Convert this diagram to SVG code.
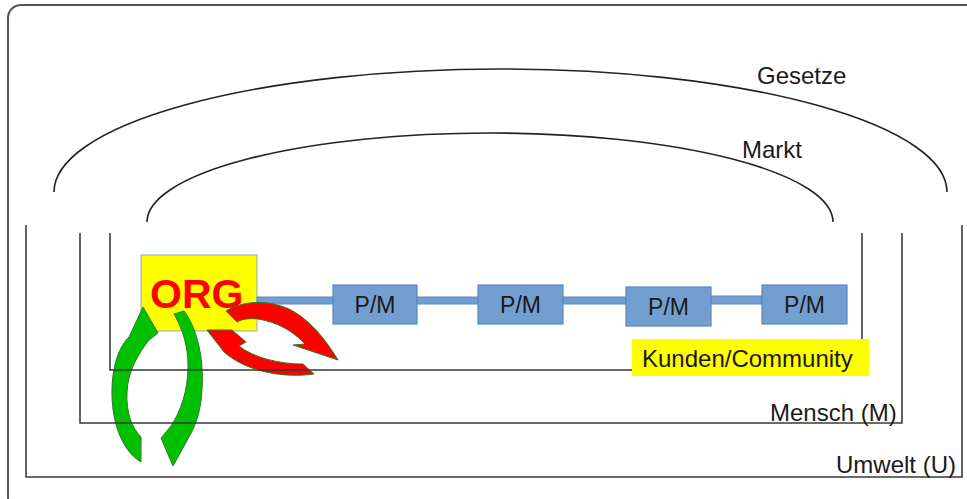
<svg xmlns="http://www.w3.org/2000/svg" width="967" height="499" viewBox="0 0 967 499">
<defs>
<style>
.t{font-family:"Liberation Sans",Arial,sans-serif;font-size:24px;fill:#1a1a1a}
.pm{font-family:"Liberation Sans",Arial,sans-serif;font-size:23px;fill:#1a1a1a;text-anchor:middle}
.line{fill:none;stroke:#3a3a3a;stroke-width:1.6}
.arc{fill:none;stroke:#222;stroke-width:1.6}
.box{fill:#729fcf;stroke:#5a86c2;stroke-width:1.2}
.bar{fill:#729fcf;stroke:#5a86c2;stroke-width:1}
.grn{fill:#00c000;stroke:#2c7a2c;stroke-width:1}
.red{fill:#ff0000;stroke:#2f7a1f;stroke-width:1}
</style>
</defs>
<rect x="0" y="0" width="967" height="499" fill="#fff"/>
<rect x="8" y="5" width="975" height="505" rx="13" fill="none" stroke="#555" stroke-width="2"/>

<g id="gesetze">
<path class="arc" d="M54,192 A446.5,123 0 0 1 947,192"/>
<text class="t" x="757" y="84">Gesetze</text>
</g>
<g id="markt">
<path class="arc" d="M147,222 A343,89 0 0 1 833,222"/>
<text class="t" x="742" y="158">Markt</text>
</g>

<g id="org">
<rect x="141" y="255" width="116" height="76" fill="#ffff00" stroke="#8faad0" stroke-width="1"/>
<text x="150" y="308" font-family="'Liberation Sans',Arial,sans-serif" font-size="41" font-weight="bold" fill="#ff0000">ORG</text>
</g>

<g id="connectors">
<rect class="bar" x="257" y="297" width="76" height="7"/>
<rect class="bar" x="417" y="297" width="61" height="7"/>
<rect class="bar" x="563" y="297" width="63" height="7"/>
<rect class="bar" x="711" y="296" width="51" height="8"/>
</g>

<g id="pm1"><rect class="box" x="333" y="285" width="84" height="39"/><text class="pm" x="375" y="313">P/M</text></g>
<g id="pm2"><rect class="box" x="478" y="285" width="85" height="39"/><text class="pm" x="520.5" y="313">P/M</text></g>
<g id="pm3"><rect class="box" x="626" y="287" width="85" height="39"/><text class="pm" x="668.5" y="315">P/M</text></g>
<g id="pm4"><rect class="box" x="762" y="285" width="85" height="39"/><text class="pm" x="804.5" y="313">P/M</text></g>

<g id="green-arrows">
<path class="grn" d="M141,462 C121,450 111,420 112,388 C113,362 120,346 129,337 L143,307 L158,333 L149,340 C139,353 128,370 127,392 C126,413 132,428 141,437 Z"/>
<path class="grn" d="M174,314 L184,311 C198,330 204,360 202,390 C201,410 196,425 189,437 L173,466 L161,438 L171,426 C180,412 188,392 188,366 C188,346 183,330 174,314 Z"/>
</g>

<g id="red-arrows">
<path class="red" d="M226,311 C242,301 267,299 289,309 C309,319 324,337 338,360 L293,345 L305,344 C294,332 278,322 258,319 C249,318 242,319 237,322 Z"/>
<path class="red" d="M207,330 L232,330 L246,342 L239,346 C254,358 280,364 303,364 L314,374 C286,378 248,373 224,352 Z"/>
</g>

<g id="umwelt">
<path class="line" d="M26,225 V477 H962 V225"/>
<text class="t" x="836" y="473">Umwelt (U)</text>
</g>
<g id="mensch">
<path class="line" d="M80,233 V423 H902 V233"/>
<text class="t" x="770" y="421">Mensch (M)</text>
</g>
<g id="kunden">
<path class="line" d="M110,233 V370 H862 V233"/>
<rect x="632" y="339" width="237" height="37" fill="#ffff00"/>
<text class="t" x="642" y="367">Kunden/Community</text>
</g>
</svg>
